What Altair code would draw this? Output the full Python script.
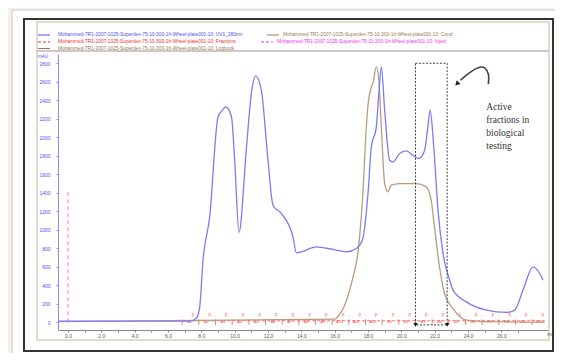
import altair as alt
import pandas as pd

# ---------------- data ----------------
uv_ml = [-0.6, 7.3, 7.7, 7.9, 8.1, 8.5, 9.0, 9.25, 9.47, 9.81, 10.0, 10.26, 10.71, 11.0, 11.26,
         11.6, 12.0, 12.3, 12.8, 13.5, 13.7, 14.0, 14.9, 15.9, 16.7, 17.3, 17.66, 18.0, 18.2, 18.5,
         18.65, 18.8, 19.0, 19.3, 19.5, 19.9, 20.3, 20.7, 21.05, 21.4, 21.57, 21.73, 21.93, 22.2,
         22.5, 22.9, 23.1, 23.9, 25.1, 26.3, 26.8, 27.3, 27.9, 28.3, 28.5]
uv_mau = [10, 11, 43, 160, 670, 1138, 2219, 2290, 2327, 2219, 1751, 970, 1895, 2472, 2663,
          2508, 1751, 1265, 1175, 922, 749, 760, 814, 786, 760, 797, 886, 1391, 1895, 2111,
          2472, 2760, 2292, 1751, 1733, 1824, 1852, 1805, 1770, 1859, 2076, 2292, 1932, 1211,
          743, 454, 346, 219, 130, 105, 130, 346, 598, 526, 454]

cond_ml = [-0.6, 16.0, 16.3, 16.6, 16.9, 17.13, 17.39, 17.69, 17.9, 17.99, 18.2, 18.29, 18.5,
           18.65, 18.8, 19.0, 19.19, 19.39, 19.89, 20.89, 21.49, 21.79, 21.99, 22.29, 22.59,
           23.09, 23.89, 25.3, 28.6]
cond_val = [5, 32, 86, 184, 346, 508, 743, 1391, 2111, 2327, 2544, 2580, 2760, 2616, 2111,
            1499, 1409, 1481, 1499, 1499, 1463, 1319, 1030, 598, 310, 148, 22, 5, 0]

frac_ml = [7.3, 8.3, 9.3, 10.3, 11.3, 12.3, 13.3, 14.3, 15.3, 16.3, 17.3, 18.3, 19.3, 20.3,
           21.3, 22.3, 23.3, 24.3, 25.3, 26.3, 27.3, 28.3]
frac_lbl = ["A1", "A2", "A3", "A4", "A5", "A6", "A7", "A8", "A9", "A10", "A11", "A12",
            "B1", "B2", "B3", "B4", "B5", "B6", "B7", "B8", "B9", "B10"]

inject_ml = [0.0]
inject_top = [1427]

box_ml = [20.85, 22.75]
box_mau = [-30, 2800]

curve_ml = [25.22, 25.28, 25.04, 24.69, 24.09, 23.55]
curve_mau = [2573, 2681, 2757, 2767, 2703, 2616]
head_ml = [23.37]
head_mau = [2584]

note_lines = ["Active", "fractions in", "biological", "testing"]
note_mau = [2324, 2184, 2043, 1903]
note_ml = [25.1]

y_ticks = [0, 200, 400, 600, 800, 1000, 1200, 1400, 1600, 1800, 2000, 2200, 2400, 2600, 2800]
x_ticks = list(range(0, 28))

run = "Mohammed-TR1-2007-1025-Superdex-75-10-300-1h-Wheel-plate001-10:"
legend_rows = [
    (run + " UV1_280nm", "#5050f0", 0, -19),
    (run + " Cond", "#9a7a5a", 225, -19),
    (run + " Fractions", "#f03030", 0, -12),
    (run + " Inject", "#f030f0", 219, -12),
    (run + " Logbook", "#9a7a5a", 0, -5.5),
]

# ---------------- scales ----------------
X_DOM = [-0.6, 28.8]
Y_DOM = [-85, 2900]
xs = alt.Scale(domain=X_DOM, nice=False, zero=False)
ys = alt.Scale(domain=Y_DOM, nice=False, zero=False)

XAX = alt.Axis(values=x_ticks, title=None, grid=False, labelFontSize=5,
               labelColor="#555555", domainColor="#888888", tickColor="#888888",
               tickSize=2, labelPadding=1, labelFont="Liberation Sans", zindex=1,
               labelOverlap=False, labelFlush=False, labelBound=False,
               labelExpr="datum.value % 2 == 0 && datum.value <= 26 ? format(datum.value, '.1f') : ''")
YAX = alt.Axis(values=y_ticks, title=None, grid=False, labelFontSize=5, format="d",
               labelColor="#5050f0", domainColor="#8888ff", tickColor="#8888ff",
               labelOverlap=False, labelFlush=False, labelBound=False,
               tickSize=2, labelPadding=6, labelFont="Liberation Sans", zindex=1)

def X(f):
    return alt.X(f, scale=xs, axis=XAX)

def Y(f):
    return alt.Y(f, scale=ys, axis=YAX)

BLUE = "#7b7bf5"
BROWN = "#bb9b7e"
one = alt.Data(values=[{"a": 1}])

def deco_rect(x, x2, y, y2, fill, stroke, sw, dash=None):
    kw = dict(fill=fill, stroke=stroke, strokeWidth=sw)
    if dash:
        kw["strokeDash"] = dash
    return alt.Chart(one).mark_rect(**kw).encode(
        x=alt.value(x), x2=alt.value(x2), y=alt.value(y), y2=alt.value(y2))

def deco_rule(x, x2, y, y2, color, sw, dash=None):
    kw = dict(color=color, strokeWidth=sw)
    if dash:
        kw["strokeDash"] = dash
    return alt.Chart(one).mark_rule(**kw).encode(
        x=alt.value(x), x2=alt.value(x2), y=alt.value(y), y2=alt.value(y2))

def deco_text(txt, x, y, color, size, font="Liberation Sans", align="left"):
    return alt.Chart(one).mark_text(text=txt, color=color, fontSize=size, font=font,
                                    align=align, baseline="middle").encode(
        x=alt.value(x), y=alt.value(y))

layers = []
# white panel, dark frame, beige inner frame
layers.append(deco_rect(-46, 520, -44, 320, "white", "#c8c8c8", 1))
layers.append(deco_rect(-34, 495, -35, 297, "white", "#333333", 2))
layers.append(deco_rect(-21, 491, -32, 286, "white", "#d8d0bc", 1.5))
# legend separator
layers.append(deco_rule(-21, 491, -3, -3, "#b8b8b8", 1.5))

# legend entries
for txt, col, x0, y0 in legend_rows:
    dash = [3, 2] if col in ("#f03030", "#f030f0") else None
    mx0 = -20 if x0 == 0 else x0 - 16
    layers.append(deco_rule(mx0, mx0 + 12, y0, y0, col, 1, dash))
    layers.append(deco_text(txt, x0, y0, col, 4.8))
layers.append(deco_text("mAU", -20, 2.5, "#5050f0", 4.5))
layers.append(deco_text("ml", 492, 280, "#555555", 5, align="center"))

# main axes (invisible points just to carry the axes)
axis_df = pd.DataFrame({"ml": [X_DOM[0]], "v": [Y_DOM[0]]})
layers.append(alt.Chart(axis_df).mark_point(opacity=0).encode(x=X("ml:Q"), y=Y("v:Q")))

# injection marker
inj_df = pd.DataFrame({"ml": inject_ml, "lo": [0], "hi": inject_top})
layers.append(alt.Chart(inj_df).mark_rule(color="#ff70ff", strokeDash=[4, 3], strokeWidth=1).encode(
    x=X("ml:Q"), y=Y("lo:Q"), y2="hi:Q"))

# fractions
fr_df = pd.DataFrame({"ml": frac_ml, "lbl": frac_lbl})
fr_df["edge"] = fr_df["ml"] - 0.45
fr_df["p"] = fr_df["ml"] + 0.2
fr_df["lo"] = -30
fr_df["hi"] = 30
fr_df["base"] = 0
fr_df["ptop"] = 80
fr_line = pd.DataFrame({"ml": [frac_ml[0] - 0.45, frac_ml[-1] + 0.3], "v": [15, 15]})
layers.append(alt.Chart(fr_line).mark_line(color="#ff5050", strokeDash=[3, 2], strokeWidth=0.8).encode(
    x=X("ml:Q"), y=Y("v:Q")))
layers.append(alt.Chart(fr_df).mark_rule(color="#ff4040", strokeWidth=0.7).encode(
    x=X("edge:Q"), y=Y("lo:Q"), y2="hi:Q"))
layers.append(alt.Chart(fr_df).mark_text(color="#ff4040", fontSize=4, font="Liberation Sans").encode(
    x=X("ml:Q"), y=Y("base:Q"), text="lbl:N"))
layers.append(alt.Chart(fr_df).mark_text(color="#ff6060", fontSize=4.5, font="Liberation Sans", text="p").encode(
    x=X("p:Q"), y=Y("ptop:Q")))
layers.append(alt.Chart(fr_df).mark_text(color="#ff6060", fontSize=5, font="Liberation Sans", text=".").encode(
    x=X("edge:Q"), y=Y("ptop:Q")))

# curves
cond_df = pd.DataFrame({"ml": cond_ml, "v": cond_val})
layers.append(alt.Chart(cond_df).mark_line(color=BROWN, strokeWidth=1.3, interpolate="monotone").encode(
    x=X("ml:Q"), y=Y("v:Q")))
uv_df = pd.DataFrame({"ml": uv_ml, "v": uv_mau})
layers.append(alt.Chart(uv_df).mark_line(color=BLUE, strokeWidth=1.3, interpolate="monotone").encode(
    x=X("ml:Q"), y=Y("v:Q")))

# dashed box of active fractions
box_df = pd.DataFrame({"x1": [box_ml[0]], "x2": [box_ml[1]], "y1": [box_mau[0]], "y2": [box_mau[1]]})
layers.append(alt.Chart(box_df).mark_rect(fill=None, stroke="#444444", strokeWidth=1, strokeDash=[2, 1.5]).encode(
    x=X("x1:Q"), x2="x2:Q", y=Y("y1:Q"), y2="y2:Q"))
tri_df = pd.DataFrame({"ml": box_ml, "v": [box_mau[0], box_mau[0]]})
layers.append(alt.Chart(tri_df).mark_point(shape="triangle-down", filled=True, color="#111111", size=18, opacity=1).encode(
    x=X("ml:Q"), y=Y("v:Q")))

# curved arrow
curve_df = pd.DataFrame({"ml": curve_ml, "v": curve_mau, "o": list(range(len(curve_ml)))})
layers.append(alt.Chart(curve_df).mark_line(color="#444444", strokeWidth=1.6, interpolate="basis").encode(
    x=X("ml:Q"), y=Y("v:Q"), order="o:Q"))
head_df = pd.DataFrame({"ml": head_ml, "v": head_mau})
layers.append(alt.Chart(head_df).mark_point(shape="triangle", filled=True, color="#222222", size=30, angle=225, opacity=1).encode(
    x=X("ml:Q"), y=Y("v:Q")))

# annotation text
note_df = pd.DataFrame({"t": note_lines, "v": note_mau, "ml": note_ml * len(note_lines)})
layers.append(alt.Chart(note_df).mark_text(font="Liberation Serif", fontSize=9.5, color="#333333",
                                           align="left", baseline="middle").encode(
    x=X("ml:Q"), y=Y("v:Q"), text="t:N"))

chart = alt.layer(*layers).properties(
    width=490, height=276,
    autosize=alt.AutoSizeParams(type="none"),
    padding={"left": 50, "top": 46, "right": 7, "bottom": 23},
    background="#fbeee3",
).configure_view(stroke=None).configure_axis(labelOverlap=False, labelFlush=False)

chart.save("out.html", embed_options={"renderer": "svg", "actions": False})
